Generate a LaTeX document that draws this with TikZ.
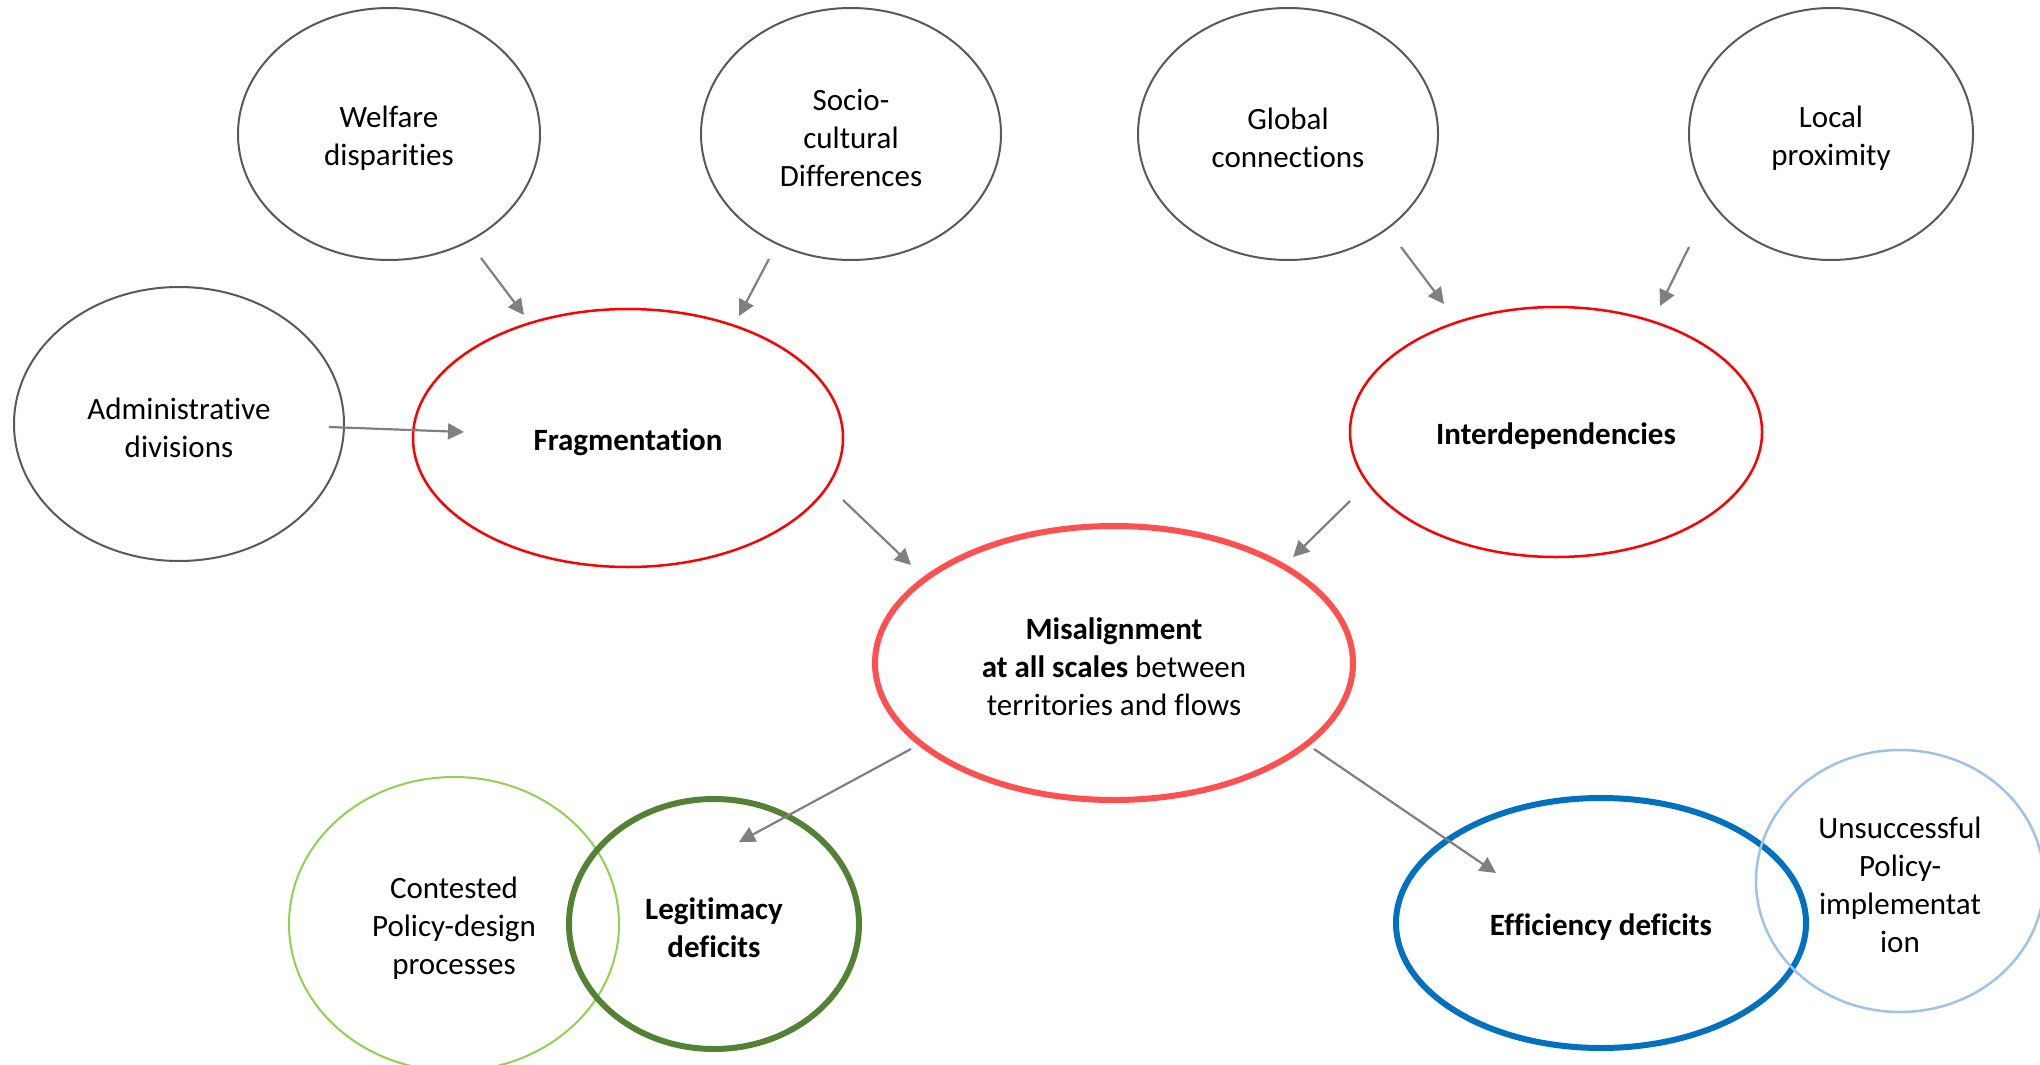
\documentclass[tikz,border=0pt]{standalone}
\usepackage{fontspec}
\setmainfont{Carlito}[Ligatures={NoCommon}]
\usetikzlibrary{shapes.geometric,arrows.meta}
\definecolor{grayline}{HTML}{595959}
\definecolor{arrowgray}{HTML}{808080}
\definecolor{redline}{HTML}{FF0000}
\definecolor{misred}{HTML}{FF5050}
\definecolor{lightgreen}{HTML}{92D050}
\definecolor{darkgreen}{HTML}{548235}
\definecolor{blueline}{HTML}{0070C0}
\definecolor{lightblue}{HTML}{9DC3E6}
\tikzset{
  lbl/.style={align=center, inner sep=0pt, yshift=-4pt,
    font=\fontsize{31}{38}\selectfont},
  oval/.style={ellipse, draw, inner sep=0pt},
  graybox/.style={oval, draw=grayline, line width=2pt},
  redbox/.style={oval, draw=redline, line width=2.5pt},
  conn/.style={draw=arrowgray, line width=2.2pt,
    -{Triangle[length=16pt,width=16pt]}}
}
\begin{document}
\begin{tikzpicture}[x=1pt,y=-1pt]
\useasboundingbox (0,0) rectangle (2040,1065);
\clip (0,0) rectangle (2040,1065);
% top causes
\node[graybox, minimum width=302pt, minimum height=252pt,
  label={[lbl]center:{Welfare\\disparities}}] (welf) at (389,134) {};
\node[graybox, minimum width=300pt, minimum height=252pt,
  label={[lbl]center:{Socio-\\cultural\\Differences}}] (soc) at (851,134) {};
\node[graybox, minimum width=300pt, minimum height=252pt,
  label={[lbl]center:{Global\\connections}}] (glob) at (1288,134) {};
\node[graybox, minimum width=284pt, minimum height=252pt,
  label={[lbl]center:{Local\\proximity}}] (loc) at (1831,134) {};
\node[graybox, minimum width=330pt, minimum height=274pt,
  label={[lbl]center:{Administrative\\divisions}}] (adm) at (179,424) {};
% middle
\node[redbox, minimum width=430pt, minimum height=258pt,
  label={[lbl]center:{\textbf{Fragmentation}}}] (frag) at (628,438) {};
\node[redbox, minimum width=412pt, minimum height=250pt,
  label={[lbl]center:{\textbf{Interdependencies}}}] (inter) at (1556,432) {};
\node[oval, draw=misred, line width=6pt, minimum width=478pt, minimum height=274pt,
  label={[lbl]center:{\textbf{Misalignment}\\\textbf{at all scales} between\\territories and flows}}] (mis) at (1114,663) {};
% bottom
\node[oval, draw=lightgreen, line width=2pt, minimum width=330pt, minimum height=294pt,
  label={[lbl]center:{Contested\\Policy-design\\processes}}] (cont) at (454,924) {};
\node[oval, draw=darkgreen, line width=6pt, minimum width=290pt, minimum height=250pt,
  label={[lbl]center:{\textbf{Legitimacy}\\\textbf{deficits}}}] (leg) at (714,924) {};
\node[oval, draw=blueline, line width=6pt, minimum width=410pt, minimum height=250pt,
  label={[lbl]center:{\textbf{Efficiency deficits}}}] (eff) at (1601,923) {};
\node[oval, draw=lightblue, line width=2.5pt, minimum width=288pt, minimum height=262pt,
  label={[lbl]center:{Unsuccessful\\Policy-\\implementat\\ion}}] (uns) at (1900,881) {};
% connector endpoints
\coordinate (welfS) at (481,258);  \coordinate (fragA) at (524,315);
\coordinate (socS)  at (769,259);  \coordinate (fragB) at (739,316);
\coordinate (admS)  at (329,427);  \coordinate (fragC) at (464,432);
\coordinate (globS) at (1401,247); \coordinate (interA) at (1444,304);
\coordinate (locS)  at (1689,247); \coordinate (interB) at (1660,306);
\coordinate (fragS) at (843,500);  \coordinate (misA) at (911,565);
\coordinate (interS) at (1350,501);\coordinate (misB) at (1293,557);
\coordinate (misS1) at (911,749);  \coordinate (legE) at (739,842);
\coordinate (misS2) at (1314,749); \coordinate (effE) at (1496,873);
\draw[conn] (welfS) -- (fragA);
\draw[conn] (socS) -- (fragB);
\draw[conn] (admS) -- (fragC);
\draw[conn] (globS) -- (interA);
\draw[conn] (locS) -- (interB);
\draw[conn] (fragS) -- (misA);
\draw[conn] (interS) -- (misB);
\draw[conn] (misS1) -- (legE);
\draw[conn] (misS2) -- (effE);
\end{tikzpicture}
\end{document}
